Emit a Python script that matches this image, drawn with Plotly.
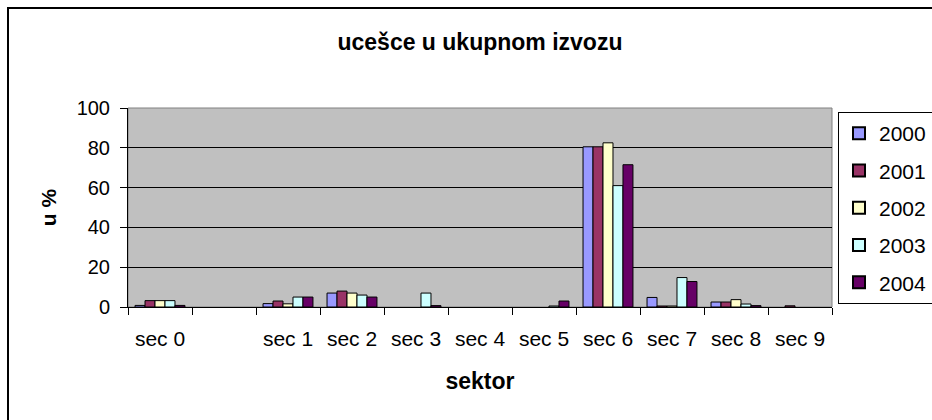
import plotly.graph_objects as go

# --- data ---
sectors = ["sec 0", " ", "sec 1", "sec 2", "sec 3", "sec 4", "sec 5", "sec 6", "sec 7", "sec 8", "sec 9"]
years = ["2000", "2001", "2002", "2003", "2004"]

y2000 = [0.8, None, 1.7, 7.0, None, None, None, 80.5, 4.8, 2.5, None]
y2001 = [3.2, None, 3.0, 8.0, None, None, None, 80.5, 0.5, 2.5, 0.6]
y2002 = [3.2, None, 1.6, 7.0, None, None, None, 82.5, 0.5, 3.7, None]
y2003 = [3.2, None, 5.0, 6.0, 7.0, None, 0.5, 61.0, 14.8, 1.5, None]
y2004 = [0.8, None, 5.0, 5.0, 0.7, None, 3.0, 71.5, 12.8, 0.7, None]

series = [y2000, y2001, y2002, y2003, y2004]
colors = ["#9999FF", "#993366", "#FFFFCC", "#CCFFFF", "#660066"]  # Excel default palette

FONT = "Arial, Liberation Sans, sans-serif"

fig = go.Figure()
for i, (name, vals) in enumerate(zip(years, series)):
    fig.add_trace(go.Bar(
        x=sectors,
        y=vals,
        name=name,
        legendgroup=name,
        marker=dict(color=colors[i], line=dict(color="black", width=1)),
    ))

fig.update_layout(
    width=932,
    height=420,
    barmode="group",
    bargap=0.22,
    bargroupgap=0,
    margin=dict(l=128, r=100, t=108, b=113, autoexpand=False),
    paper_bgcolor="white",
    plot_bgcolor="#C0C0C0",
    font=dict(family=FONT, size=21, color="black"),
    title=dict(
        text="<b>ucešce u ukupnom izvozu</b>",
        x=0.515, xanchor="center",
        y=0.9, yanchor="middle",
        font=dict(family=FONT, size=23, color="black"),
    ),
    legend=dict(
        x=(838 - 128) / 704, xanchor="left",
        y=0.98, yanchor="top",
        bordercolor="black", borderwidth=1,
        bgcolor="white",
        font=dict(family=FONT, size=21),
        tracegroupgap=7,
        itemsizing="constant",
    ),
    showlegend=True,
)

fig.update_xaxes(
    type="category",
    showline=True, linecolor="black", linewidth=1,
    ticks="outside", tickson="boundaries", ticklen=7, tickcolor="black",
    ticklabelstandoff=13,
    showgrid=False,
    tickfont=dict(family=FONT, size=21),
    title=dict(text="<b>sektor</b>", font=dict(family=FONT, size=23), standoff=23),
)

fig.update_yaxes(
    range=[0, 100],
    dtick=20,
    showline=True, linecolor="black", linewidth=1,
    ticks="outside", ticklen=7, tickcolor="black",
    ticklabelstandoff=6,
    showgrid=True, gridcolor="black", gridwidth=1,
    zeroline=False,
    tickfont=dict(family=FONT, size=20),
    title=dict(text="<b>u %</b>", font=dict(family=FONT, size=21), standoff=14),
)

# plot area border (grey, top & right) and the outer chart frame
fig.add_shape(type="rect", xref="x domain", yref="y domain", x0=0, x1=1, y0=0, y1=1,
              line=dict(color="#808080", width=1), layer="below")
fig.add_shape(type="rect", xref="paper", yref="paper",
              x0=(8 - 128) / 704, x1=1.3, y0=-0.7, y1=(307 - 8) / 199,
              line=dict(color="black", width=2))

# drop the page's body margin so the 932x420 figure sits exactly in the window
fig.write_html("out.html", config={"displayModeBar": False},
               post_script="document.body.style.margin='0';")
